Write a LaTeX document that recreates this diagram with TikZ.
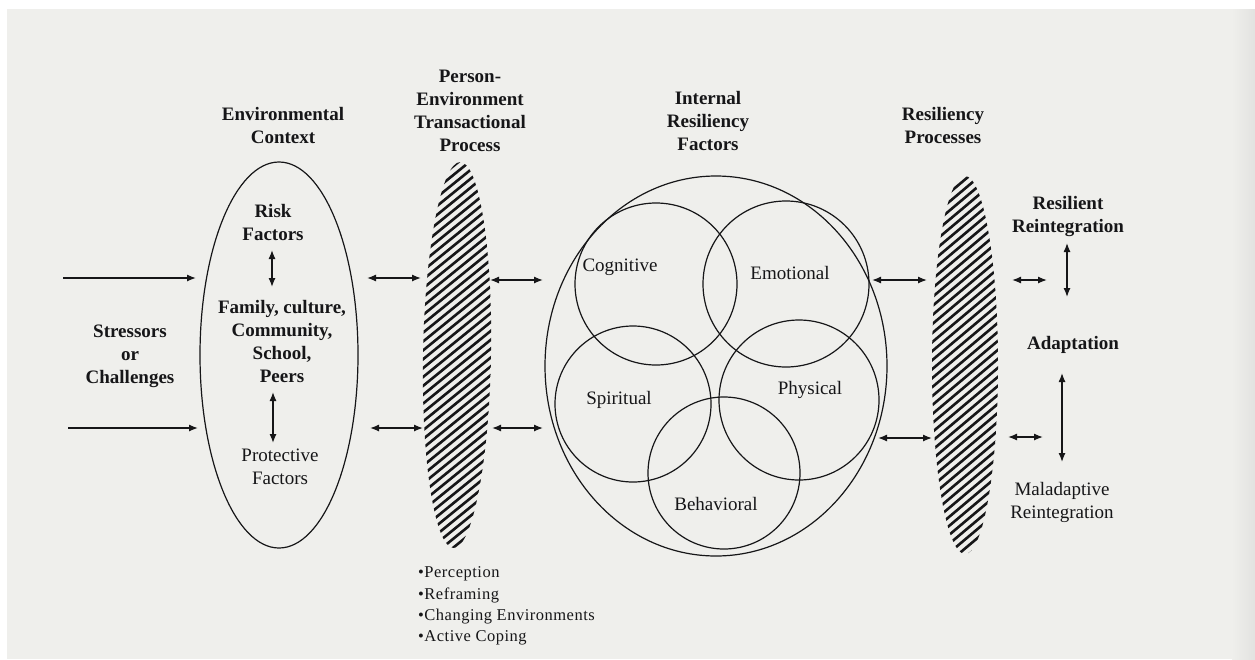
\documentclass[tikz,border=0pt]{standalone}
\usepackage{fontspec}
\setmainfont{Liberation Serif}
\usetikzlibrary{shapes.geometric,arrows.meta}
\definecolor{ink}{RGB}{22,22,24}
\definecolor{bg}{RGB}{239,239,236}
\definecolor{bgdark}{RGB}{226,226,224}
\begin{document}
\begin{tikzpicture}[x=1pt,y=-1pt,
  ttl/.style={font=\fontsize{19}{23}\selectfont\bfseries, align=center, text=ink, inner sep=0},
  lbl/.style={font=\fontsize{19}{23}\selectfont, align=center, text=ink, inner sep=0},
  shapeline/.style={draw=ink, line width=1.2pt},
  arr/.style={draw=ink, line width=1.3pt, -{Latex[length=9pt,width=7pt]}},
  darr/.style={draw=ink, line width=1.3pt, {Latex[length=9pt,width=7pt]}-{Latex[length=9pt,width=7pt]}},
  ring/.style={circle, shapeline, inner sep=0},
  hatch/.style={ellipse, inner sep=0, path picture={
     \foreach \k in {-28,...,28}{
       \draw[line width=2.6pt, ink] ([shift={(-60,\k*9)}]path picture bounding box.center) -- ++(170,-143);
     }}}
]
\useasboundingbox (0,0) rectangle (1255,659);
\fill[white] (0,0) rectangle (1255,659);
\fill[bg] (7,9) rectangle (1255,659);
\shade[left color=bg, right color=bgdark] (1232,9) rectangle (1255,659);

% titles
\node[ttl] (envtitle) at (283,125) {Environmental\\Context};
\node[ttl] (pettitle) at (470,111) {Person-\\Environment\\Transactional\\Process};
\node[ttl] (irftitle) at (708,121) {Internal\\Resiliency\\Factors};
\node[ttl] (rptitle) at (943,125) {Resiliency\\Processes};

% environmental context ellipse
\node[ellipse, shapeline, inner sep=0, minimum width=158, minimum height=386] (env) at (279,355) {};
\node[ttl] (risk) at (273,222) {Risk\\Factors};
\node[ttl] (family) at (282,341) {Family, culture,\\Community,\\School,\\Peers};
\node[lbl] (protect) at (280,467) {Protective\\Factors};
\coordinate (r1) at (272,250); \coordinate (r2) at (272,287);
\coordinate (p1) at (273,392); \coordinate (p2) at (273,443);
\draw[darr] (r1) -- (r2);
\draw[darr] (p1) -- (p2);

% stressors
\node[ttl] (stress) at (130,356) {Stressors\\or\\Challenges};
\coordinate (s1a) at (63,278); \coordinate (s1b) at (196,278);
\coordinate (s2a) at (68,428); \coordinate (s2b) at (198,428);
\draw[arr] (s1a) -- (s1b);
\draw[arr] (s2a) -- (s2b);

% env <-> PET
\coordinate (e1a) at (367,278); \coordinate (e1b) at (421,278);
\coordinate (e2a) at (370,428); \coordinate (e2b) at (423,428);
\draw[darr] (e1a) -- (e1b);
\draw[darr] (e2a) -- (e2b);

% PET hatched ellipse
\node[hatch, minimum width=68, minimum height=386, rotate=-1] (pet) at (457,355) {};

% PET <-> internal
\coordinate (t1a) at (490,280); \coordinate (t1b) at (543,280);
\coordinate (t2a) at (492,428); \coordinate (t2b) at (543,428);
\draw[darr] (t1a) -- (t1b);
\draw[darr] (t2a) -- (t2b);

% internal resiliency factors
\node[ellipse, shapeline, inner sep=0, minimum width=342, minimum height=380] (outer) at (716,366) {};
\node[ring, minimum size=162] (cog) at (656,284) {};
\node[ring, minimum size=166] (emo) at (786,284) {};
\node[ring, minimum size=156] (spi) at (633,404) {};
\node[ring, minimum size=160] (phy) at (799,400) {};
\node[ring, minimum size=152] (beh) at (724,473) {};
\node[lbl] (cogl) at (620,267) {Cognitive};
\node[lbl] (emol) at (790,273) {Emotional};
\node[lbl] (spil) at (619,400) {Spiritual};
\node[lbl] (phyl) at (810,390) {Physical};
\node[lbl] (behl) at (716,504) {Behavioral};

% internal <-> resiliency processes
\coordinate (i1a) at (872,280); \coordinate (i1b) at (927,280);
\coordinate (i2a) at (878,438); \coordinate (i2b) at (932,438);
\draw[darr] (i1a) -- (i1b);
\draw[darr] (i2a) -- (i2b);

% resiliency processes hatched ellipse
\node[hatch, minimum width=66, minimum height=378] (rp) at (965,365) {};

% outcomes
\node[ttl] (resil) at (1068,217) {Resilient\\Reintegration};
\node[ttl] (adapt) at (1073,345) {Adaptation};
\node[lbl] (malad) at (1062,502) {Maladaptive\\Reintegration};
\coordinate (o1a) at (1012,280); \coordinate (o1b) at (1047,280);
\coordinate (o2a) at (1008,437); \coordinate (o2b) at (1043,437);
\draw[darr] (o1a) -- (o1b);
\draw[darr] (o2a) -- (o2b);
\coordinate (v1a) at (1067,243); \coordinate (v1b) at (1067,297);
\coordinate (v2a) at (1062,373); \coordinate (v2b) at (1062,462);
\draw[darr] (v1a) -- (v1b);
\draw[darr] (v2a) -- (v2b);

% bullet list
\node[anchor=west, align=left, text=ink, inner sep=0,
      font=\fontsize{16.5}{21.3}\selectfont\addfontfeatures{LetterSpace=3}] (bullets) at (418,606)
  {•Perception\\•Reframing\\•Changing Environments\\•Active Coping};
\end{tikzpicture}
\end{document}
